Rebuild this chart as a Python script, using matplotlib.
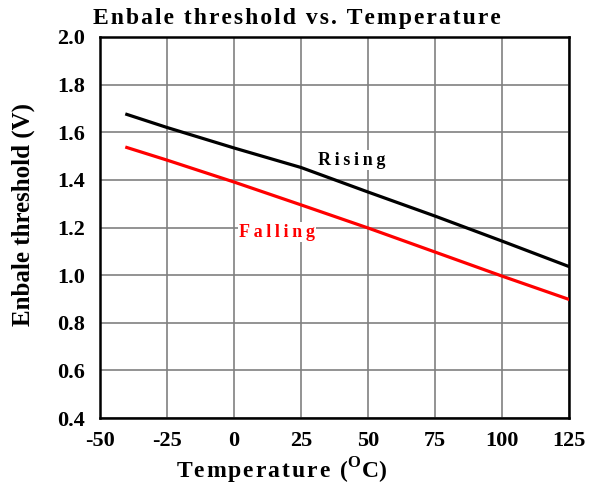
import matplotlib
matplotlib.use('Agg')
import matplotlib.pyplot as plt

temps = [-40, -25, 0, 25, 50, 75, 100, 125]
rising = [1.675, 1.620, 1.534, 1.452, 1.349, 1.248, 1.143, 1.036]
falling = [1.536, 1.483, 1.391, 1.295, 1.198, 1.097, 0.996, 0.898]

x_ticks = [-50, -25, 0, 25, 50, 75, 100, 125]
y_ticks = [0.4, 0.6, 0.8, 1.0, 1.2, 1.4, 1.6, 1.8, 2.0]

plt.rcParams['font.family'] = ['Liberation Serif', 'DejaVu Serif']
plt.rcParams['font.weight'] = 'bold'
plt.rcParams['axes.unicode_minus'] = False


def spaced(s, gap='\u2009'):
    # the reference uses wide letter spacing
    return gap.join(s)


fig = plt.figure(figsize=(6.01, 4.88), dpi=100)
ax = fig.add_axes([0.1664, 0.1434, 0.7804, 0.7808])

ax.plot(temps, rising, color='black', lw=2.3, zorder=3)
ax.plot(temps, falling, color='#ff0000', lw=2.3, zorder=3)

ax.set_xlim(-50, 125)
ax.set_ylim(0.4, 2.0)
ax.set_xticks(x_ticks)
ax.set_yticks(y_ticks)
ax.set_yticklabels(['{:.1f}'.format(v) for v in y_ticks])
ax.tick_params(length=0, labelsize=16)
ax.tick_params(axis='x', pad=9)
ax.tick_params(axis='y', pad=11)
for lab in ax.get_xticklabels() + ax.get_yticklabels():
    lab.set_fontweight('bold')
ax.grid(True, color='#808080', lw=1.2)
for s in ax.spines.values():
    s.set_linewidth(1.8)

box = dict(facecolor='white', edgecolor='none', pad=1)
ax.text(44, 1.483, spaced('Rising'), fontsize=13, fontweight='bold', ha='center', va='center',
        color='black', zorder=2.5, bbox=box)
ax.text(16, 1.18, spaced('Falling'), fontsize=13, fontweight='bold', ha='center', va='center',
        color='#ff0000', zorder=2.5, bbox=box)

fig.text(0.494, 0.962, spaced('Enbale threshold vs. Temperature', '\u200a'), fontsize=17,
         fontweight='bold', ha='center', va='center')
ax.set_xlabel(spaced('Temperature (', '\u200a') + '$^{\\mathregular{O}}$C)',
              fontsize=17, fontweight='bold')
ax.xaxis.set_label_coords(0.386, -0.1)
ax.set_ylabel('Enbale threshold (V)', fontsize=18, fontweight='bold')
ax.yaxis.set_label_coords(-0.138, 0.533)

fig.savefig('out.png', dpi=100)
